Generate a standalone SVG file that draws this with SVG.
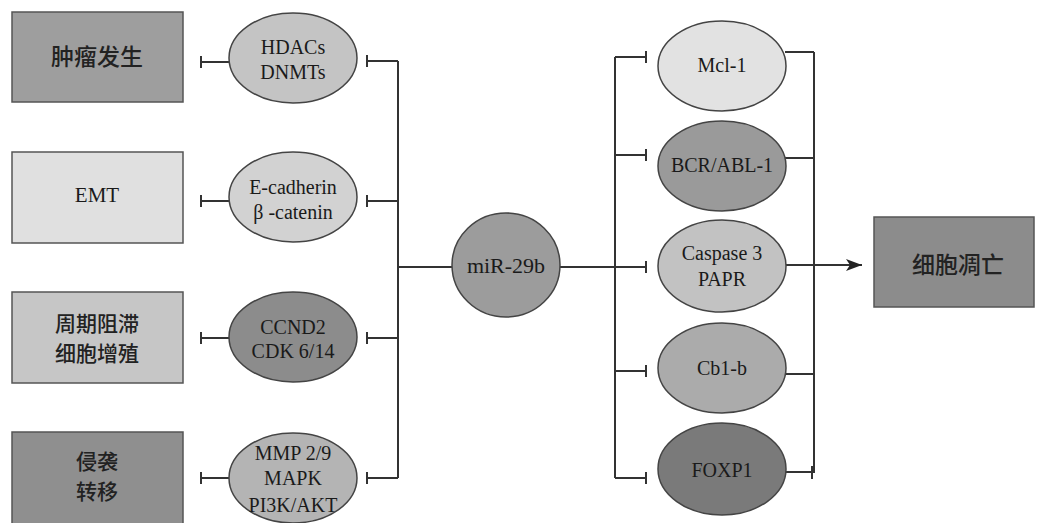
<svg xmlns="http://www.w3.org/2000/svg" width="1037" height="523" viewBox="0 0 1037 523">
<defs>
<style>
.box{stroke:#555;stroke-width:1.5}
.ell{stroke:#444;stroke-width:1.5}
.cn{fill:#222;font-family:"Noto Sans CJK SC","Noto Sans",sans-serif;font-size:23px;font-weight:500;text-anchor:middle}
.cn2{font-size:21px}
.lt{fill:#1a1a1a;font-family:"Liberation Serif","DejaVu Serif",serif;font-size:20px;text-anchor:middle}
.ln{stroke:#333;stroke-width:2;fill:none}
</style>
<marker id="arr" viewBox="0 0 16 12" refX="16" refY="6" markerWidth="16" markerHeight="12" markerUnits="userSpaceOnUse" orient="auto"><path d="M0,0 L16,6 L0,12 L4,6 z" fill="#222"/></marker>
</defs>
<rect width="1037" height="523" fill="#fff"/>
<g id="connectors">
<path class="ln" d="M229,62 H201 M201,56 V68"/>
<path class="ln" d="M229,201 H201 M201,195 V207"/>
<path class="ln" d="M229,338 H201 M201,332 V344"/>
<path class="ln" d="M229,478 H201 M201,472 V484"/>
<path class="ln" d="M398,61 V478"/>
<path class="ln" d="M398,61 H367 M367,55 V67"/>
<path class="ln" d="M398,201 H367 M367,195 V207"/>
<path class="ln" d="M398,338 H367 M367,332 V344"/>
<path class="ln" d="M398,478 H367 M367,472 V484"/>
<path class="ln" d="M398,267 H452"/>
<path class="ln" d="M560,267 H646 M646,261 V273"/>
<path class="ln" d="M615,57 V478"/>
<path class="ln" d="M615,57 H646 M646,51 V63"/>
<path class="ln" d="M615,155 H646 M646,149 V161"/>
<path class="ln" d="M615,371 H646 M646,365 V377"/>
<path class="ln" d="M615,478 H646 M646,472 V484"/>
<path class="ln" d="M814,52 V473"/>
<path class="ln" d="M785,52 H814"/>
<path class="ln" d="M785,158 H814"/>
<path class="ln" d="M785,374 H814"/>
<path class="ln" d="M785,472 H814 M812,466 V479"/>
<path class="ln" d="M786,265 H862" marker-end="url(#arr)"/>
</g>
<g id="n-zhongliu"><rect class="box" x="12" y="12" width="171" height="90" fill="#9e9e9e"/><text class="cn" x="97" y="65">肿瘤发生</text></g>
<g id="n-emt"><rect class="box" x="12" y="152" width="171" height="91" fill="#e0e0e0"/><text class="lt" x="97" y="202" style="font-size:21px">EMT</text></g>
<g id="n-zhouqi"><rect class="box" x="12" y="292" width="171" height="91" fill="#c6c6c6"/><text class="cn cn2" x="97" y="331">周期阻滞</text><text class="cn cn2" x="97" y="361">细胞增殖</text></g>
<g id="n-qinxi"><rect class="box" x="12" y="432" width="171" height="100" fill="#8f8f8f"/><text class="cn cn2" x="97" y="469">侵袭</text><text class="cn cn2" x="97" y="499">转移</text></g>
<g id="n-hdacs"><ellipse class="ell" cx="293" cy="58" rx="64" ry="45" fill="#c4c4c4"/><text class="lt" x="293" y="54">HDACs</text><text class="lt" x="293" y="79">DNMTs</text></g>
<g id="n-ecad"><ellipse class="ell" cx="293" cy="197" rx="64" ry="45" fill="#d2d2d2"/><text class="lt" x="293" y="194">E-cadherin</text><text class="lt" x="293" y="219">β -catenin</text></g>
<g id="n-ccnd2"><ellipse class="ell" cx="293" cy="337" rx="64" ry="45" fill="#8c8c8c"/><text class="lt" x="293" y="334">CCND2</text><text class="lt" x="293" y="358">CDK 6/14</text></g>
<g id="n-mmp"><ellipse class="ell" cx="293" cy="478" rx="64" ry="45" fill="#b4b4b4"/><text class="lt" x="293" y="460">MMP 2/9</text><text class="lt" x="293" y="485">MAPK</text><text class="lt" x="293" y="512">PI3K/AKT</text></g>
<g id="n-mir"><ellipse class="ell" cx="506" cy="265" rx="54" ry="52" fill="#9c9c9c"/><text class="lt" x="506" y="273" style="font-size:22px">miR-29b</text></g>
<g id="n-mcl"><ellipse class="ell" cx="722" cy="66" rx="64" ry="45" fill="#e2e2e2"/><text class="lt" x="722" y="72">Mcl-1</text></g>
<g id="n-bcr"><ellipse class="ell" cx="722" cy="166" rx="64" ry="45" fill="#9a9a9a"/><text class="lt" x="722" y="172">BCR/ABL-1</text></g>
<g id="n-casp"><ellipse class="ell" cx="722" cy="266" rx="64" ry="46" fill="#c2c2c2"/><text class="lt" x="722" y="260">Caspase 3</text><text class="lt" x="722" y="286">PAPR</text></g>
<g id="n-cbl"><ellipse class="ell" cx="722" cy="368" rx="64" ry="45" fill="#ababab"/><text class="lt" x="722" y="375">Cb1-b</text></g>
<g id="n-foxp1"><ellipse class="ell" cx="722" cy="469" rx="64" ry="46" fill="#7a7a7a"/><text class="lt" x="722" y="477">FOXP1</text></g>
<g id="n-apoptosis"><rect class="box" x="874" y="217" width="160" height="90" fill="#8c8c8c"/><text class="cn" x="958" y="273">细胞凋亡</text></g>
</svg>
